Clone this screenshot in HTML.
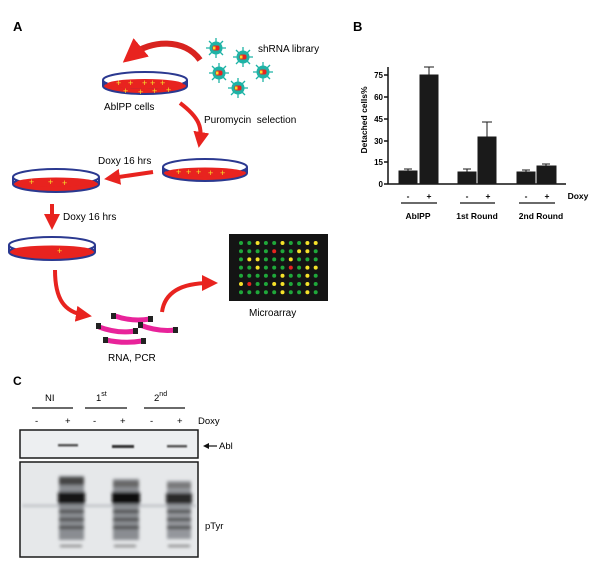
<!DOCTYPE html>
<html><head><style>
body{margin:0;background:#fff}
svg{display:block}
text{font-family:"Liberation Sans",sans-serif}
</style></head><body>
<svg width="600" height="579" viewBox="0 0 600 579" xmlns="http://www.w3.org/2000/svg">
<defs>
<marker id="ah" markerWidth="4" markerHeight="4" refX="2" refY="2" orient="auto" markerUnits="strokeWidth"><path d="M0,0 L4,2 L0,4 z" fill="#e8231f"/></marker>
<filter id="bl" x="-20%" y="-20%" width="140%" height="140%"><feGaussianBlur stdDeviation="1.5"/></filter>
<filter id="bl2" x="-20%" y="-100%" width="140%" height="300%"><feGaussianBlur stdDeviation="0.8"/></filter>
<g id="vir">
<g stroke="#1fb3a6" stroke-width="1.3">
<line x1="-10" y1="0" x2="10" y2="0"/><line x1="0" y1="-10" x2="0" y2="10"/>
<line x1="-7" y1="-7" x2="7" y2="7"/><line x1="-7" y1="7" x2="7" y2="-7"/>
</g>
<circle r="6.5" fill="#1fb3a6"/>
<rect x="-3.5" y="-2.5" width="7" height="5" rx="2" fill="#e8231f"/>
<rect x="-3" y="-1.5" width="2.5" height="3" fill="#f5e12a"/>
</g>
</defs>

<text x="13" y="31" font-size="13" font-weight="bold">A</text>
<path d="M200,60 C185,38 150,40 132,55" fill="none" stroke="#d8231f" stroke-width="6" marker-end="url(#ah)"/>
<use href="#vir" x="216" y="48"/>
<use href="#vir" x="243" y="57"/>
<use href="#vir" x="219" y="73"/>
<use href="#vir" x="263" y="72"/>
<use href="#vir" x="238" y="88"/>
<text x="258" y="52" font-size="10">shRNA library</text>

<ellipse cx="145" cy="86" rx="42" ry="8" fill="#e8231f" stroke="#2b3990" stroke-width="2"/>
<path d="M103,80 L103,86 M187,80 L187,86" stroke="#2b3990" stroke-width="2"/>
<ellipse cx="145" cy="80" rx="42" ry="8" fill="#fff" stroke="#2b3990" stroke-width="2"/>
<ellipse cx="145" cy="84" rx="38" ry="5" fill="#e8231f"/>
<g fill="#f5e12a" font-size="9"><text x="116" y="86">+</text><text x="128" y="86">+</text><text x="142" y="86">+</text><text x="160" y="86">+</text><text x="123" y="94">+</text><text x="138" y="95">+</text><text x="152" y="94">+</text><text x="166" y="93">+</text><text x="150" y="86">+</text></g>
<text x="104" y="110" font-size="10">AblPP cells</text>

<path d="M180,103 C200,118 202,128 200,140" fill="none" stroke="#e8231f" stroke-width="4" marker-end="url(#ah)"/>
<text x="204" y="123" font-size="10">Puromycin &#160;selection</text>

<ellipse cx="205" cy="173" rx="42" ry="8" fill="#e8231f" stroke="#2b3990" stroke-width="2"/>
<path d="M163,167 L163,173 M247,167 L247,173" stroke="#2b3990" stroke-width="2"/>
<ellipse cx="205" cy="167" rx="42" ry="8" fill="#fff" stroke="#2b3990" stroke-width="2"/>
<ellipse cx="205" cy="172" rx="38" ry="4.5" fill="#e8231f"/>
<g fill="#f5e12a" font-size="9"><text x="176" y="175">+</text><text x="186" y="175">+</text><text x="196" y="175">+</text><text x="208" y="176">+</text><text x="220" y="176">+</text></g>

<text x="98" y="164" font-size="10">Doxy 16 hrs</text>
<path d="M153,172 L112,178" fill="none" stroke="#e8231f" stroke-width="4" marker-end="url(#ah)"/>

<ellipse cx="56" cy="184" rx="43" ry="8" fill="#e8231f" stroke="#2b3990" stroke-width="2"/>
<path d="M13,177 L13,184 M99,177 L99,184" stroke="#2b3990" stroke-width="2"/>
<ellipse cx="56" cy="177" rx="43" ry="8" fill="#fff" stroke="#2b3990" stroke-width="2"/>
<ellipse cx="56" cy="182" rx="39" ry="4.5" fill="#e8231f"/>
<g fill="#f5e12a" font-size="9"><text x="29" y="185">+</text><text x="48" y="185">+</text><text x="62" y="186">+</text></g>

<path d="M52,204 L52,222" fill="none" stroke="#e8231f" stroke-width="4" marker-end="url(#ah)"/>
<text x="63" y="220" font-size="10">Doxy 16 hrs</text>

<ellipse cx="52" cy="252" rx="43" ry="8" fill="#e8231f" stroke="#2b3990" stroke-width="2"/>
<path d="M9,245 L9,252 M95,245 L95,252" stroke="#2b3990" stroke-width="2"/>
<ellipse cx="52" cy="245" rx="43" ry="8" fill="#fff" stroke="#2b3990" stroke-width="2"/>
<ellipse cx="52" cy="250" rx="39" ry="4.5" fill="#e8231f"/>
<text x="57" y="254" fill="#f5e12a" font-size="9">+</text>

<path d="M55,270 C55,300 65,312 84,315" fill="none" stroke="#e8231f" stroke-width="4" marker-end="url(#ah)"/>
<path d="M162,312 C165,290 185,283 210,283" fill="none" stroke="#e8231f" stroke-width="4" marker-end="url(#ah)"/>

<g stroke-width="5" fill="none">
<path d="M115,316 Q132,322 150,319" stroke="#e8239a"/>
<path d="M99,327 Q118,334 135,331" stroke="#e8239a"/>
<path d="M140,325 Q158,332 175,330" stroke="#e8239a"/>
<path d="M106,340 Q124,344 142,341" stroke="#e8239a"/>
</g>
<g fill="#222">
<rect x="111" y="313" width="5" height="6"/><rect x="148" y="316" width="5" height="6"/>
<rect x="96" y="323" width="5" height="6"/><rect x="133" y="328" width="5" height="6"/>
<rect x="138" y="322" width="5" height="6"/><rect x="173" y="327" width="5" height="6"/>
<rect x="103" y="337" width="5" height="6"/><rect x="141" y="338" width="5" height="6"/>
</g>
<text x="108" y="361" font-size="10">RNA, PCR</text>

<rect x="229" y="234" width="99" height="67" fill="#141414"/>
<g id="dots"></g>
<text x="249" y="316" font-size="10">Microarray</text>

<text x="353" y="31" font-size="13" font-weight="bold">B</text>
<g stroke="#111" stroke-width="1.5">
<line x1="388" y1="67" x2="388" y2="184"/>
<line x1="384" y1="184" x2="566" y2="184"/>
<line x1="384" y1="75" x2="388" y2="75"/><line x1="384" y1="97" x2="388" y2="97"/>
<line x1="384" y1="119" x2="388" y2="119"/><line x1="384" y1="141" x2="388" y2="141"/>
<line x1="384" y1="162" x2="388" y2="162"/>
</g>
<g font-size="8" font-weight="bold" text-anchor="end">
<text x="383" y="78">75</text><text x="383" y="100">60</text><text x="383" y="122">45</text><text x="383" y="144">30</text><text x="383" y="165">15</text><text x="383" y="187">0</text>
</g>
<text transform="translate(367,120) rotate(-90)" font-size="8.5" font-weight="bold" text-anchor="middle">Detached cells%</text>
<g fill="#1a1a1a" stroke="#1a1a1a" stroke-width="1">
<rect x="399" y="171" width="18" height="13"/>
<rect x="420" y="75" width="18" height="109"/>
<rect x="458" y="172" width="18" height="12"/>
<rect x="478" y="137" width="18" height="47"/>
<rect x="517" y="172" width="18" height="12"/>
<rect x="537" y="166" width="19" height="18"/>
<path d="M429,75 V67 M424,67 H434 M487,137 V122 M482,122 H492 M408,171 V169 M404,169 H412 M467,172 V169 M463,169 H471 M526,172 V170 M522,170 H530 M546,166 V164 M542,164 H550" fill="none"/>
</g>
<g font-size="8.5" font-weight="bold" text-anchor="middle">
<text x="408" y="199">-</text><text x="429" y="199">+</text>
<text x="467" y="199">-</text><text x="488" y="199">+</text>
<text x="526" y="199">-</text><text x="547" y="199">+</text>
<text x="578" y="199">Doxy</text>
<text x="418" y="219">AblPP</text><text x="477" y="219">1st Round</text><text x="541" y="219">2nd Round</text>
</g>
<g stroke="#111" stroke-width="1.2">
<line x1="401" y1="203" x2="437" y2="203"/><line x1="460" y1="203" x2="495" y2="203"/><line x1="519" y1="203" x2="555" y2="203"/>
</g>

<text x="13" y="385" font-size="12" font-weight="bold">C</text>
<g font-size="9.5">
<text x="45" y="401">NI</text>
<text x="96" y="401">1<tspan font-size="7" dy="-5">st</tspan></text>
<text x="154" y="401">2<tspan font-size="7" dy="-5">nd</tspan></text>
<text x="198" y="424">Doxy</text>
<text x="35" y="424">-</text><text x="65" y="424">+</text>
<text x="93" y="424">-</text><text x="120" y="424">+</text>
<text x="150" y="424">-</text><text x="177" y="424">+</text>
<text x="219" y="449">Abl</text>
<text x="205" y="529">pTyr</text>
</g>
<g stroke="#111" stroke-width="1.2">
<line x1="32" y1="408" x2="73" y2="408"/><line x1="85" y1="408" x2="127" y2="408"/><line x1="144" y1="408" x2="185" y2="408"/>
<line x1="217" y1="446" x2="207" y2="446"/>
</g>
<path d="M203,446 L209,443 L209,449 z" fill="#111"/>

<rect x="20" y="430" width="178" height="28" fill="#edeff1" stroke="#1a1a1a" stroke-width="1.5"/>
<g filter="url(#bl2)" fill="#555">
<rect x="58" y="444" width="20" height="2.5"/>
<rect x="112" y="445" width="22" height="3" fill="#333"/>
<rect x="167" y="445" width="20" height="2.5"/>
</g>

<rect x="20" y="462" width="178" height="95" fill="#e6e8ea" stroke="#1a1a1a" stroke-width="1.5"/>
<g filter="url(#bl)">
<rect x="22" y="505" width="174" height="1.5" fill="#a4a8ae"/>
<rect x="59" y="476" width="25" height="64" fill="#8a8d92"/>
<rect x="113" y="479" width="26" height="61" fill="#8a8d92"/>
<rect x="167" y="481" width="24" height="58" fill="#94979c"/>
<rect x="59" y="477" width="25" height="8" fill="#444"/>
<rect x="113" y="481" width="26" height="6" fill="#666"/>
<rect x="167" y="483" width="24" height="5" fill="#777"/>
<rect x="58" y="492" width="27" height="12" fill="#151515"/>
<rect x="112" y="492" width="28" height="12" fill="#111"/>
<rect x="166" y="493" width="26" height="11" fill="#2a2a2a"/>
<g fill="#444">
<rect x="59" y="510" width="25" height="3"/><rect x="113" y="510" width="26" height="3"/><rect x="167" y="510" width="24" height="3"/>
<rect x="59" y="518" width="25" height="3"/><rect x="113" y="518" width="26" height="3"/><rect x="167" y="518" width="24" height="3"/>
<rect x="59" y="526" width="25" height="3"/><rect x="113" y="526" width="26" height="3"/><rect x="167" y="526" width="24" height="3"/>
</g>
<g fill="#777">
<rect x="60" y="545" width="22" height="2"/><rect x="114" y="545" width="22" height="2"/><rect x="168" y="545" width="22" height="2"/>
</g>
</g>
</svg>
<script>
(function(){
var g=document.getElementById('dots');
var pat=["ggyggyggyy","ggggrggyyg","gyygggyggg","ggygggrgyy","gggggyggyg","yrggyyggyg","gggggyggyg"];
var c={g:"#1fa83a",y:"#f5e12a",r:"#e8231f"};
var ns="http://www.w3.org/2000/svg";
for(var r=0;r<7;r++){for(var k=0;k<10;k++){var e=document.createElementNS(ns,'circle');
e.setAttribute('cx',241+k*8.3);e.setAttribute('cy',243+r*8.2);e.setAttribute('r',2);
e.setAttribute('fill',c[pat[r][k]]);g.appendChild(e);}}
})();
</script>
</body></html>
